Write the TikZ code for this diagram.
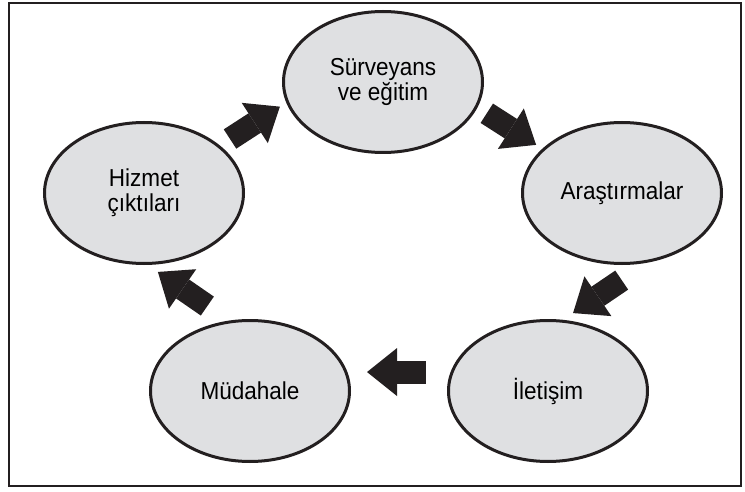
\documentclass[tikz,border=0pt]{standalone}
\usepackage{fontspec}
\setmainfont{Liberation Sans}[FakeStretch=0.92]
\usetikzlibrary{arrows.meta,shapes.geometric}
\definecolor{ink}{RGB}{35,31,32}
\definecolor{disk}{RGB}{223,224,226}

\begin{document}
\begin{tikzpicture}
    [x=1pt,y=-1pt,
     every node/.style={ellipse,draw=ink,line width=3pt,fill=disk,inner sep=0pt,
       minimum width=199pt,minimum height=141pt,align=center,
       font=\fontsize{24.5}{25}\selectfont},
     flow/.style={draw=ink,line width=23pt,
       -{Triangle[length=30pt,width=48pt,line width=0pt]}}]
    \useasboundingbox (0,0) rectangle (745,492);
    \draw[ink,line width=2pt] (8.5,3) rectangle (741,486);

    \node (n1) at (383,82) {Sürveyans\\ve eğitim};
    \node (n2) at (622,193) {Araştırmalar};
    \node (n3) at (548,391) {İletişim};
    \node (n4) at (250,391) {Müdahale};
    \node (n5) at (144,193) {Hizmet\\çıktıları};

    \draw [flow, shorten <=12pt, shorten >=7.5pt] (n5.32) -- (n1.192);
    \draw [flow, shorten <=11pt, shorten >=7.3pt] (n1.345) -- (n2.151);
    \draw [flow, shorten <=31pt, shorten >=12pt] (n2.290) -- (n3.78);
    \draw [flow, shorten <=24.6pt, shorten >=19.6pt] (n3.169) -- (n4.11);
    \draw [flow, shorten <=25.7pt, shorten >=12.3pt] (n4.107) -- (n5.273);
\end{tikzpicture}
\end{document}
